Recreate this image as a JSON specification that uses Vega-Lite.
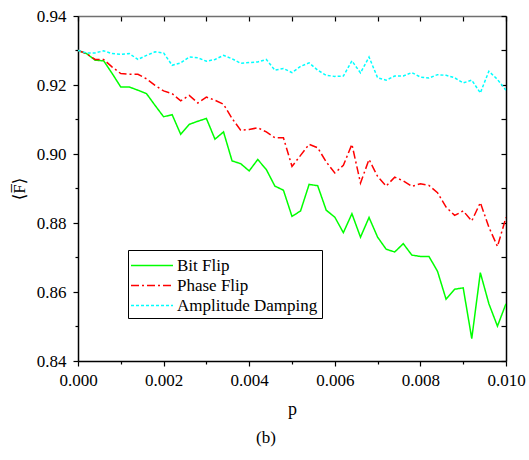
{
"$schema": "https://vega.github.io/schema/vega-lite/v6.json",
"width": 428, "height": 345,
"autosize": {"type": "none"},
"padding": {"left": 78, "top": 16, "right": 23, "bottom": 99},
"background": "white",
"config": {"view": {"stroke": null}, "font": "Times New Roman, Liberation Serif, DejaVu Serif, serif",
"style": {"guide-label": {"font": "Times New Roman, Liberation Serif, DejaVu Serif, serif"}, "guide-title": {"font": "Times New Roman, Liberation Serif, DejaVu Serif, serif"}},
"axis": {"labelFont": "Times New Roman, Liberation Serif, DejaVu Serif, serif", "titleFont": "Times New Roman, Liberation Serif, DejaVu Serif, serif"},
"legend": {"labelFont": "Times New Roman, Liberation Serif, DejaVu Serif, serif", "titleFont": "Times New Roman, Liberation Serif, DejaVu Serif, serif"}},
"title": {"text": "(b)", "orient": "bottom", "fontSize": 17, "fontWeight": "normal", "font": "Times New Roman, Liberation Serif, DejaVu Serif, serif", "color": "black", "offset": 12, "dx": -26},
"data": {"values": [
{"p":0.0000,"F":0.9300,"s":"Bit Flip"},{"p":0.0002,"F":0.9291,"s":"Bit Flip"},{"p":0.0004,"F":0.9272,"s":"Bit Flip"},{"p":0.0006,"F":0.9270,"s":"Bit Flip"},{"p":0.0008,"F":0.9233,"s":"Bit Flip"},{"p":0.0010,"F":0.9194,"s":"Bit Flip"},{"p":0.0012,"F":0.9194,"s":"Bit Flip"},{"p":0.0014,"F":0.9185,"s":"Bit Flip"},{"p":0.0016,"F":0.9175,"s":"Bit Flip"},{"p":0.0018,"F":0.9141,"s":"Bit Flip"},
{"p":0.0020,"F":0.9108,"s":"Bit Flip"},{"p":0.0022,"F":0.9114,"s":"Bit Flip"},{"p":0.0024,"F":0.9057,"s":"Bit Flip"},{"p":0.0026,"F":0.9086,"s":"Bit Flip"},{"p":0.0028,"F":0.9095,"s":"Bit Flip"},{"p":0.0030,"F":0.9103,"s":"Bit Flip"},{"p":0.0032,"F":0.9043,"s":"Bit Flip"},{"p":0.0034,"F":0.9064,"s":"Bit Flip"},{"p":0.0036,"F":0.8980,"s":"Bit Flip"},{"p":0.0038,"F":0.8972,"s":"Bit Flip"},
{"p":0.0040,"F":0.8951,"s":"Bit Flip"},{"p":0.0042,"F":0.8984,"s":"Bit Flip"},{"p":0.0044,"F":0.8955,"s":"Bit Flip"},{"p":0.0046,"F":0.8907,"s":"Bit Flip"},{"p":0.0048,"F":0.8895,"s":"Bit Flip"},{"p":0.0050,"F":0.8819,"s":"Bit Flip"},{"p":0.0052,"F":0.8835,"s":"Bit Flip"},{"p":0.0054,"F":0.8912,"s":"Bit Flip"},{"p":0.0056,"F":0.8908,"s":"Bit Flip"},{"p":0.0058,"F":0.8837,"s":"Bit Flip"},
{"p":0.0060,"F":0.8817,"s":"Bit Flip"},{"p":0.0062,"F":0.8772,"s":"Bit Flip"},{"p":0.0064,"F":0.8827,"s":"Bit Flip"},{"p":0.0066,"F":0.8759,"s":"Bit Flip"},{"p":0.0068,"F":0.8816,"s":"Bit Flip"},{"p":0.0070,"F":0.8759,"s":"Bit Flip"},{"p":0.0072,"F":0.8724,"s":"Bit Flip"},{"p":0.0074,"F":0.8716,"s":"Bit Flip"},{"p":0.0076,"F":0.8740,"s":"Bit Flip"},{"p":0.0078,"F":0.8707,"s":"Bit Flip"},
{"p":0.0080,"F":0.8703,"s":"Bit Flip"},{"p":0.0082,"F":0.8703,"s":"Bit Flip"},{"p":0.0084,"F":0.8660,"s":"Bit Flip"},{"p":0.0086,"F":0.8579,"s":"Bit Flip"},{"p":0.0088,"F":0.8608,"s":"Bit Flip"},{"p":0.0090,"F":0.8612,"s":"Bit Flip"},{"p":0.0092,"F":0.8465,"s":"Bit Flip"},{"p":0.0094,"F":0.8656,"s":"Bit Flip"},{"p":0.0096,"F":0.8566,"s":"Bit Flip"},{"p":0.0098,"F":0.8501,"s":"Bit Flip"},{"p":0.0100,"F":0.8566,"s":"Bit Flip"},
{"p":0.0000,"F":0.9300,"s":"Phase Flip"},{"p":0.0002,"F":0.9291,"s":"Phase Flip"},{"p":0.0004,"F":0.9274,"s":"Phase Flip"},{"p":0.0006,"F":0.9274,"s":"Phase Flip"},{"p":0.0008,"F":0.9252,"s":"Phase Flip"},{"p":0.0010,"F":0.9233,"s":"Phase Flip"},{"p":0.0012,"F":0.9231,"s":"Phase Flip"},{"p":0.0014,"F":0.9231,"s":"Phase Flip"},{"p":0.0016,"F":0.9218,"s":"Phase Flip"},{"p":0.0018,"F":0.9199,"s":"Phase Flip"},
{"p":0.0020,"F":0.9183,"s":"Phase Flip"},{"p":0.0022,"F":0.9175,"s":"Phase Flip"},{"p":0.0024,"F":0.9154,"s":"Phase Flip"},{"p":0.0026,"F":0.9170,"s":"Phase Flip"},{"p":0.0028,"F":0.9148,"s":"Phase Flip"},{"p":0.0030,"F":0.9165,"s":"Phase Flip"},{"p":0.0032,"F":0.9156,"s":"Phase Flip"},{"p":0.0034,"F":0.9144,"s":"Phase Flip"},{"p":0.0036,"F":0.9103,"s":"Phase Flip"},{"p":0.0038,"F":0.9069,"s":"Phase Flip"},
{"p":0.0040,"F":0.9071,"s":"Phase Flip"},{"p":0.0042,"F":0.9076,"s":"Phase Flip"},{"p":0.0044,"F":0.9064,"s":"Phase Flip"},{"p":0.0046,"F":0.9047,"s":"Phase Flip"},{"p":0.0048,"F":0.9047,"s":"Phase Flip"},{"p":0.0050,"F":0.8964,"s":"Phase Flip"},{"p":0.0052,"F":0.8996,"s":"Phase Flip"},{"p":0.0054,"F":0.9028,"s":"Phase Flip"},{"p":0.0056,"F":0.9018,"s":"Phase Flip"},{"p":0.0058,"F":0.8977,"s":"Phase Flip"},
{"p":0.0060,"F":0.8945,"s":"Phase Flip"},{"p":0.0062,"F":0.8967,"s":"Phase Flip"},{"p":0.0064,"F":0.9028,"s":"Phase Flip"},{"p":0.0066,"F":0.8916,"s":"Phase Flip"},{"p":0.0068,"F":0.8984,"s":"Phase Flip"},{"p":0.0070,"F":0.8935,"s":"Phase Flip"},{"p":0.0072,"F":0.8907,"s":"Phase Flip"},{"p":0.0074,"F":0.8933,"s":"Phase Flip"},{"p":0.0076,"F":0.8922,"s":"Phase Flip"},{"p":0.0078,"F":0.8906,"s":"Phase Flip"},
{"p":0.0080,"F":0.8914,"s":"Phase Flip"},{"p":0.0082,"F":0.8909,"s":"Phase Flip"},{"p":0.0084,"F":0.8888,"s":"Phase Flip"},{"p":0.0086,"F":0.8846,"s":"Phase Flip"},{"p":0.0088,"F":0.8822,"s":"Phase Flip"},{"p":0.0090,"F":0.8835,"s":"Phase Flip"},{"p":0.0092,"F":0.8806,"s":"Phase Flip"},{"p":0.0094,"F":0.8859,"s":"Phase Flip"},{"p":0.0096,"F":0.8788,"s":"Phase Flip"},{"p":0.0098,"F":0.8732,"s":"Phase Flip"},{"p":0.0100,"F":0.8816,"s":"Phase Flip"},
{"p":0.0000,"F":0.9300,"s":"Amplitude Damping"},{"p":0.0002,"F":0.9293,"s":"Amplitude Damping"},{"p":0.0004,"F":0.9293,"s":"Amplitude Damping"},{"p":0.0006,"F":0.9299,"s":"Amplitude Damping"},{"p":0.0008,"F":0.9291,"s":"Amplitude Damping"},{"p":0.0010,"F":0.9289,"s":"Amplitude Damping"},{"p":0.0012,"F":0.9291,"s":"Amplitude Damping"},{"p":0.0014,"F":0.9274,"s":"Amplitude Damping"},{"p":0.0016,"F":0.9286,"s":"Amplitude Damping"},{"p":0.0018,"F":0.9296,"s":"Amplitude Damping"},
{"p":0.0020,"F":0.9293,"s":"Amplitude Damping"},{"p":0.0022,"F":0.9257,"s":"Amplitude Damping"},{"p":0.0024,"F":0.9264,"s":"Amplitude Damping"},{"p":0.0026,"F":0.9281,"s":"Amplitude Damping"},{"p":0.0028,"F":0.9279,"s":"Amplitude Damping"},{"p":0.0030,"F":0.9269,"s":"Amplitude Damping"},{"p":0.0032,"F":0.9274,"s":"Amplitude Damping"},{"p":0.0034,"F":0.9286,"s":"Amplitude Damping"},{"p":0.0036,"F":0.9276,"s":"Amplitude Damping"},{"p":0.0038,"F":0.9263,"s":"Amplitude Damping"},
{"p":0.0040,"F":0.9265,"s":"Amplitude Damping"},{"p":0.0042,"F":0.9267,"s":"Amplitude Damping"},{"p":0.0044,"F":0.9274,"s":"Amplitude Damping"},{"p":0.0046,"F":0.9243,"s":"Amplitude Damping"},{"p":0.0048,"F":0.9248,"s":"Amplitude Damping"},{"p":0.0050,"F":0.9236,"s":"Amplitude Damping"},{"p":0.0052,"F":0.9254,"s":"Amplitude Damping"},{"p":0.0054,"F":0.9264,"s":"Amplitude Damping"},{"p":0.0056,"F":0.9243,"s":"Amplitude Damping"},{"p":0.0058,"F":0.9228,"s":"Amplitude Damping"},
{"p":0.0060,"F":0.9225,"s":"Amplitude Damping"},{"p":0.0062,"F":0.9226,"s":"Amplitude Damping"},{"p":0.0064,"F":0.9270,"s":"Amplitude Damping"},{"p":0.0066,"F":0.9235,"s":"Amplitude Damping"},{"p":0.0068,"F":0.9281,"s":"Amplitude Damping"},{"p":0.0070,"F":0.9221,"s":"Amplitude Damping"},{"p":0.0072,"F":0.9214,"s":"Amplitude Damping"},{"p":0.0074,"F":0.9226,"s":"Amplitude Damping"},{"p":0.0076,"F":0.9226,"s":"Amplitude Damping"},{"p":0.0078,"F":0.9236,"s":"Amplitude Damping"},
{"p":0.0080,"F":0.9223,"s":"Amplitude Damping"},{"p":0.0082,"F":0.9220,"s":"Amplitude Damping"},{"p":0.0084,"F":0.9230,"s":"Amplitude Damping"},{"p":0.0086,"F":0.9228,"s":"Amplitude Damping"},{"p":0.0088,"F":0.9221,"s":"Amplitude Damping"},{"p":0.0090,"F":0.9206,"s":"Amplitude Damping"},{"p":0.0092,"F":0.9214,"s":"Amplitude Damping"},{"p":0.0094,"F":0.9177,"s":"Amplitude Damping"},{"p":0.0096,"F":0.9240,"s":"Amplitude Damping"},{"p":0.0098,"F":0.9216,"s":"Amplitude Damping"},{"p":0.0100,"F":0.9185,"s":"Amplitude Damping"}
]},
"resolve": {"axis": {"x": "independent", "y": "independent"}},
"layer": [
{
"mark": {"type": "line", "opacity": 0},
"encoding": {
"x": {"field": "p", "type": "quantitative", "scale": {"domain": [0, 0.01], "nice": false, "zero": false},
"axis": {"orient": "bottom", "values": [0.001, 0.003, 0.005, 0.007, 0.009], "labels": false, "title": null, "grid": false, "domain": false, "tickColor": "black", "tickSize": 3, "tickWidth": 1.2}},
"y": {"field": "F", "type": "quantitative", "scale": {"domain": [0.84, 0.94], "nice": false, "zero": false},
"axis": {"orient": "left", "values": [0.85, 0.87, 0.89, 0.91, 0.93], "labels": false, "title": null, "grid": false, "domain": false, "tickColor": "black", "tickSize": 3, "tickWidth": 1.2}},
"detail": {"field": "s", "type": "nominal"}
}
},
{
"mark": {"type": "line", "strokeWidth": 1.5, "clip": true},
"encoding": {
"x": {"field": "p", "type": "quantitative",
"axis": {"orient": "bottom", "values": [0, 0.002, 0.004, 0.006, 0.008, 0.01], "format": ".3f", "title": "p", "grid": false,
"domainColor": "black", "domainWidth": 1.5, "tickColor": "black", "tickSize": 5, "tickWidth": 1.2, "labelColor": "black", "labelFont": "Times New Roman, Liberation Serif, DejaVu Serif, serif", "labelFontSize": 17, "labelPadding": 6, "labelFlush": false,
"titleFont": "Times New Roman, Liberation Serif, DejaVu Serif, serif", "titleFontSize": 18, "titleFontWeight": "normal", "titleColor": "black", "titlePadding": 12}},
"y": {"field": "F", "type": "quantitative",
"axis": {"orient": "left", "values": [0.84, 0.86, 0.88, 0.9, 0.92, 0.94], "format": ".2f", "title": "⟨F̅⟩", "grid": false,
"domainColor": "black", "domainWidth": 1.5, "tickColor": "black", "tickSize": 5, "tickWidth": 1.2, "labelColor": "black", "labelFont": "Times New Roman, Liberation Serif, DejaVu Serif, serif", "labelFontSize": 17, "labelPadding": 7, "labelFlush": false,
"titleFont": "Times New Roman, Liberation Serif, DejaVu Serif, serif", "titleFontSize": 17, "titleFontWeight": "normal", "titleColor": "black", "titlePadding": 8}},
"color": {"field": "s", "type": "nominal", "scale": {"domain": ["Bit Flip", "Phase Flip", "Amplitude Damping"], "range": ["#00ff00", "#ff0000", "#00ffff"]},
"legend": {"title": null, "orient": "none", "legendX": 50, "legendY": 234, "fillColor": "white", "strokeColor": "black", "padding": 4, "labelFontSize": 17, "labelColor": "black", "symbolType": "M-1.19,0H2.81", "symbolSize": 441, "symbolStrokeWidth": 1.5, "rowPadding": 0, "labelOffset": 22}},
"strokeDash": {"field": "s", "type": "nominal", "scale": {"domain": ["Bit Flip", "Phase Flip", "Amplitude Damping"], "range": [[1, 0], [8, 3, 2, 3], [3, 2]]},
"legend": {"title": null, "orient": "none", "legendX": 50, "legendY": 234, "fillColor": "white", "strokeColor": "black", "padding": 4, "labelFontSize": 17, "labelColor": "black", "symbolType": "M-1.19,0H2.81", "symbolSize": 441, "symbolStrokeWidth": 1.5, "rowPadding": 0, "labelOffset": 22}}
}
},
{
"mark": {"type": "line", "opacity": 0},
"encoding": {
"x": {"field": "p", "type": "quantitative",
"axis": {"orient": "top", "values": [0, 0.001, 0.002, 0.003, 0.004, 0.005, 0.006, 0.007, 0.008, 0.009, 0.01], "labels": false, "title": null, "grid": false,
"domainColor": "#707070", "domainWidth": 1.5, "tickColor": "black", "tickSize": -5, "tickWidth": 1.2}},
"y": {"field": "F", "type": "quantitative",
"axis": {"orient": "right", "values": [0.84, 0.85, 0.86, 0.87, 0.88, 0.89, 0.9, 0.91, 0.92, 0.93, 0.94], "labels": false, "title": null, "grid": false,
"domainColor": "black", "domainWidth": 1.5, "tickColor": "black", "tickSize": -5, "tickWidth": 1.2}},
"detail": {"field": "s", "type": "nominal"}
}
}
]
}
